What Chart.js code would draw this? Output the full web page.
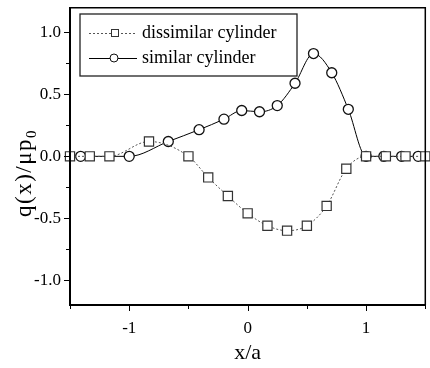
<!DOCTYPE html>
<html>
<head>
<meta charset="utf-8">
<script src="https://cdn.jsdelivr.net/npm/chart.js@4"></script>
<style>
  html, body { margin: 0; padding: 0; background: #fff; overflow: hidden; }
  canvas { display: block; }
</style>
</head>
<body>
<canvas id="c" width="433" height="368"></canvas>
<script>
// load distribution along the contact, two cylinder cases
const dissimX = [-1.5, -1.333, -1.167, -0.833, -0.5, -0.333, -0.167, 0, 0.167, 0.333, 0.5, 0.667, 0.833, 1.0, 1.167, 1.333, 1.5]
const dissimY = [0, 0, 0, 0.12, 0, -0.17, -0.32, -0.46, -0.56, -0.60, -0.56, -0.40, -0.10, 0, 0, 0, 0]
const simX = [-1.41, -1.0, -0.67, -0.41, -0.2, -0.05, 0.1, 0.25, 0.4, 0.556, 0.71, 0.85, 1.0, 1.15, 1.3, 1.44]
const simY = [0, 0, 0.12, 0.215, 0.3, 0.37, 0.36, 0.41, 0.59, 0.83, 0.675, 0.38, 0, 0, 0, 0]
const seriesNames = ['dissimilar cylinder', 'similar cylinder']
const xTickVals = [-1, 0, 1]
const yTickVals = [-1.0, -0.5, 0.0, 0.5, 1.0]

const serif = "'Liberation Serif', 'DejaVu Serif', serif"
const pts = (xs, ys) => xs.map((x, i) => ({ x, y: ys[i] }))

// frame + major/minor ticks drawn against the scales
const framePlugin = {
  id: 'frame',
  afterDraw(chart) {
    const { ctx: c, chartArea: a, scales: { x, y } } = chart
    c.save()
    c.strokeStyle = '#000'
    c.lineWidth = 1.5
    c.beginPath()
    c.moveTo(a.left, a.top); c.lineTo(a.right, a.top); c.lineTo(a.right, a.bottom)
    c.stroke()
    c.lineWidth = 2
    c.beginPath()
    c.moveTo(a.left, a.top - 0.75); c.lineTo(a.left, a.bottom); c.lineTo(a.right, a.bottom)
    c.stroke()
    c.lineWidth = 1
    for (let v = -1.0; v <= 1.0001; v += 0.25) {
      const py = Math.round(y.getPixelForValue(v)) + 0.5
      const len = Math.abs(v * 2 - Math.round(v * 2)) < 1e-6 ? 6 : 4
      c.beginPath(); c.moveTo(a.left - len, py); c.lineTo(a.left, py); c.stroke()
    }
    for (let v = -1.5; v <= 1.5001; v += 0.5) {
      const px = Math.round(x.getPixelForValue(v)) + 0.5
      const len = Math.abs(v - Math.round(v)) < 1e-6 ? 6 : 4
      c.beginPath(); c.moveTo(px, a.bottom); c.lineTo(px, a.bottom + len); c.stroke()
    }

    // y axis title with a real subscript
    c.translate(25, 173)
    c.rotate(-Math.PI / 2)
    c.fillStyle = '#000'
    c.textBaseline = 'middle'
    c.textAlign = 'left'
    c.letterSpacing = '1.5px'
    const main = 'q(x)/μp', sub = '0'
    c.font = '23px ' + serif
    const w1 = c.measureText(main).width
    c.font = '15px ' + serif
    const w2 = c.measureText(sub).width
    const x0 = -(w1 + w2) / 2
    c.font = '23px ' + serif
    c.fillText(main, x0, 0)
    c.font = '15px ' + serif
    c.fillText(sub, x0 + w1, 7)
    c.restore()
  }
}

// boxed legend with line sample + marker
const legendPlugin = {
  id: 'boxLegend',
  afterDraw(chart) {
    const c = chart.ctx
    const box = { l: 80, t: 14, r: 297, b: 76 }
    c.save()
    c.fillStyle = '#fff'
    c.fillRect(box.l, box.t, box.r - box.l, box.b - box.t)
    c.strokeStyle = '#222'
    c.lineWidth = 1.3
    c.strokeRect(box.l, box.t, box.r - box.l, box.b - box.t)
    const rows = [33, 58]
    chart.data.datasets.forEach((ds, i) => {
      const yy = rows[i]
      c.strokeStyle = ds.borderColor
      c.lineWidth = 1
      c.setLineDash(ds.borderDash || [])
      c.beginPath(); c.moveTo(89, yy + 0.5); c.lineTo(137, yy + 0.5); c.stroke()
      c.setLineDash([])
      c.fillStyle = '#fff'
      c.strokeStyle = ds.pointBorderColor
      c.lineWidth = 1
      if (ds.pointStyle === 'rect') {
        c.fillRect(111.5, yy - 3.5, 7, 7); c.strokeRect(111.5, yy - 3.5, 7, 7)
      } else {
        c.beginPath(); c.arc(114, yy, 4, 0, Math.PI * 2); c.fill(); c.stroke()
      }
      c.fillStyle = '#000'
      c.font = '18px ' + serif
      c.textBaseline = 'middle'
      c.fillText(ds.label, 142, yy)
    })
    c.restore()
  }
}

new Chart(document.getElementById('c'), {
  type: 'scatter',
  plugins: [framePlugin, legendPlugin],
  data: {
    datasets: [
      {
        label: seriesNames[0],
        data: pts(dissimX, dissimY),
        showLine: true,
        borderColor: '#555',
        borderWidth: 1,
        borderDash: [2, 2],
        cubicInterpolationMode: 'monotone',
        pointStyle: 'rect',
        pointRadius: 6.5,
        pointBackgroundColor: '#fff',
        pointBorderColor: '#333',
        pointBorderWidth: 1.2,
        clip: false
      },
      {
        label: seriesNames[1],
        data: pts(simX, simY),
        showLine: true,
        borderColor: '#000',
        borderWidth: 1,
        cubicInterpolationMode: 'monotone',
        pointStyle: 'circle',
        pointRadius: 5,
        pointBackgroundColor: '#fff',
        pointBorderColor: '#111',
        pointBorderWidth: 1.3,
        clip: false
      }
    ]
  },
  options: {
    responsive: false,
    animation: false,
    layout: { padding: { top: 7, right: 1, left: 0, bottom: 0 } },
    plugins: { legend: { display: false }, tooltip: { enabled: false } },
    scales: {
      x: {
        type: 'linear',
        min: -1.5, max: 1.5,
        afterFit: s => { s.height = 63; s.paddingLeft = 0; s.paddingRight = 0 },
        afterBuildTicks: s => { s.ticks = xTickVals.map(v => ({ value: v })) },
        grid: { display: false, drawTicks: false },
        border: { display: false },
        ticks: { color: '#000', padding: 13, font: { family: serif, size: 17 }, callback: v => String(v) },
        title: { display: true, text: 'x/a', color: '#000', font: { family: serif, size: 22 }, padding: { top: 14, bottom: 2 } }
      },
      y: {
        type: 'linear',
        min: -1.2, max: 1.2,
        afterFit: s => { s.width = 70; s.paddingTop = 0; s.paddingBottom = 0 },
        afterBuildTicks: s => { s.ticks = yTickVals.map(v => ({ value: v })) },
        grid: { display: false, drawTicks: false },
        border: { display: false },
        ticks: { color: '#000', padding: 9, font: { family: serif, size: 17 }, callback: v => v.toFixed(1) },
        title: { display: false }
      }
    }
  }
})
</script>
</body>
</html>
